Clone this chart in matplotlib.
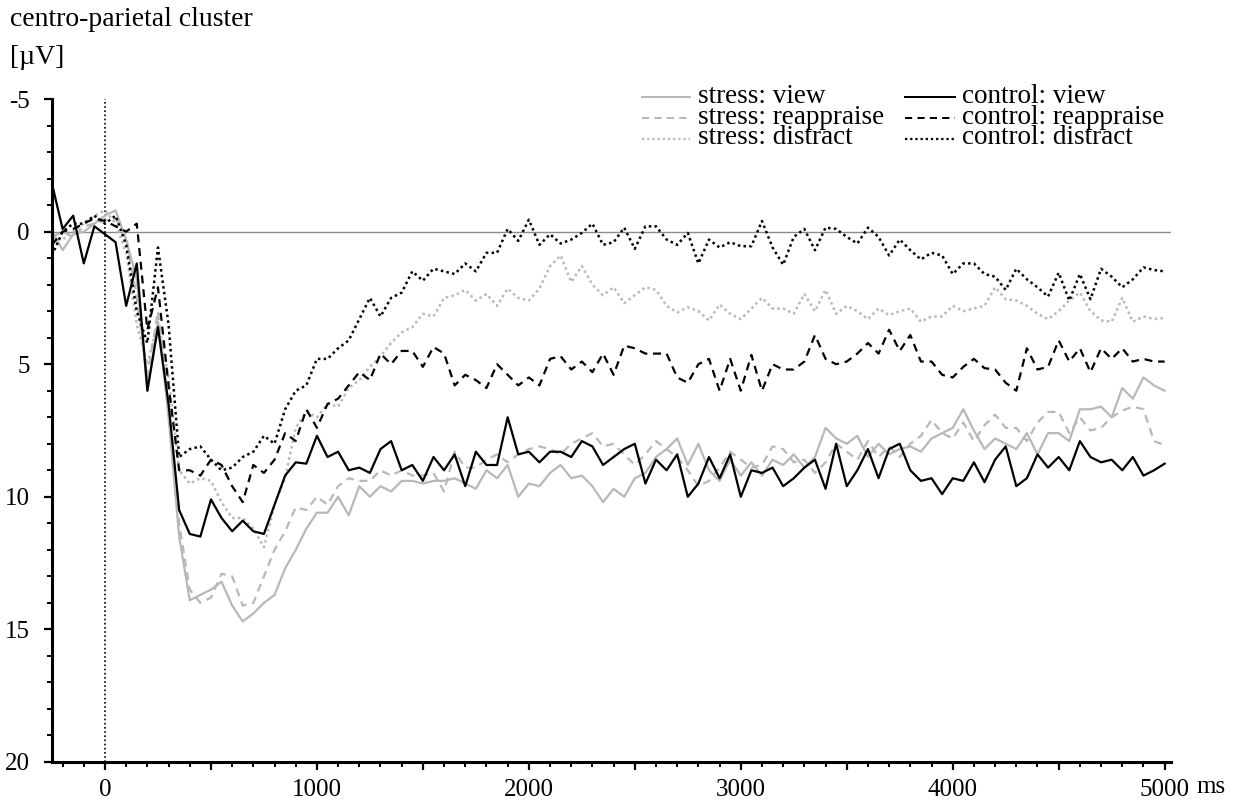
import numpy as np
import matplotlib
matplotlib.use("Agg")
import matplotlib.pyplot as plt
from matplotlib.lines import Line2D
from matplotlib.ticker import MultipleLocator, FixedLocator

plt.rcParams['font.family'] = ['Liberation Serif', 'DejaVu Serif']

# ---- data (ms, µV) ----
time_ms = np.arange(-250, 5001, 50)

stress_view = [0.0, 0.7, 0.1, 0.0, -0.3, -0.6, -0.8, 0.3, 1.8, 6.0,
               3.4, 7.0, 11.5, 13.9, 13.7, 13.5, 13.2, 14.1, 14.7, 14.4,
               14.0, 13.7, 12.7, 12.0, 11.2, 10.6, 10.6, 10.0, 10.7, 9.6,
               10.0, 9.6, 9.8, 9.4, 9.4, 9.5, 9.4, 9.4, 9.3, 9.5,
               9.7, 9.0, 9.3, 8.8, 10.0, 9.5, 9.6, 9.1, 8.8, 9.3,
               9.2, 9.6, 10.2, 9.7, 10.0, 9.3, 9.1, 8.5, 8.2, 7.8,
               8.8, 8.0, 9.0, 9.4, 8.6, 9.2, 8.7, 9.2, 8.6, 8.8,
               8.4, 8.9, 8.5, 7.4, 7.8, 8.0, 7.7, 8.5, 8.0, 8.4,
               8.2, 8.1, 8.3, 7.8, 7.6, 7.4, 6.7, 7.5, 8.2, 7.8,
               8.0, 8.2, 7.6, 8.4, 7.6, 7.6, 7.9, 6.7, 6.7, 6.6,
               7.0, 5.9, 6.3, 5.5, 5.8, 6.0]

stress_reappraise = [0.2, 0.0, 0.2, -0.2, -0.3, -0.4, -0.5, 0.2, 2.5, 5.5,
                     3.0, 6.5, 11.0, 13.5, 14.0, 13.8, 12.9, 13.0, 14.1, 14.0,
                     13.0, 12.0, 11.3, 10.4, 10.5, 10.0, 10.3, 9.6, 9.3, 9.4,
                     9.4, 9.0, 9.2, 9.0, 9.2, 9.2, 9.1, 9.8, 8.3, 8.9,
                     8.9, 8.6, 8.4, 8.7, 8.4, 8.2, 8.1, 8.2, 8.4, 8.0,
                     7.8, 7.6, 8.1, 8.0, 8.4, 8.8, 8.4, 7.9, 8.2, 8.5,
                     9.0, 9.6, 9.4, 8.9, 8.3, 8.6, 8.9, 8.8, 8.1, 8.2,
                     8.7, 8.6, 9.1, 8.7, 8.0, 8.3, 8.6, 7.9, 8.5, 8.1,
                     8.5, 8.0, 7.7, 7.1, 7.6, 7.8, 7.2, 7.9, 7.3, 6.9,
                     7.4, 7.4, 7.9, 7.2, 6.8, 6.8, 7.6, 7.0, 7.5, 7.4,
                     7.0, 6.75, 6.6, 6.7, 7.9, 8.05]

stress_distract = [0.3, 0.3, 0.0, -0.3, -0.6, -0.8, -0.3, 0.8, 3.5, 5.0,
                   3.4, 5.5, 9.0, 9.5, 9.3, 9.4, 10.2, 10.8, 10.8, 11.2,
                   11.9, 10.3, 9.3, 7.4, 6.8, 7.0, 6.5, 6.6, 5.9, 5.6,
                   5.1, 4.7, 4.2, 3.8, 3.6, 3.1, 3.2, 2.5, 2.4, 2.2,
                   2.6, 2.35, 2.8, 2.15, 2.5, 2.6, 2.15, 1.3, 0.9, 1.9,
                   1.3, 2.0, 2.4, 2.1, 2.7, 2.4, 2.1, 2.2, 2.8, 3.05,
                   2.85, 3.0, 3.35, 2.75, 3.1, 3.3, 2.9, 2.5, 2.9, 2.9,
                   3.1, 2.35, 3.0, 2.2, 3.1, 2.8, 3.0, 3.3, 2.9, 3.15,
                   3.0, 2.9, 3.4, 3.2, 3.2, 2.8, 3.0, 2.9, 2.8, 2.1,
                   2.55, 2.6, 2.8, 3.1, 3.3, 3.0, 2.6, 2.3, 3.0, 3.35,
                   3.4, 2.5, 3.4, 3.2, 3.3, 3.25]

control_view = [-1.8, -0.1, -0.6, 1.2, -0.2, 0.1, 0.4, 2.8, 1.2, 6.0,
                3.6, 6.5, 10.5, 11.4, 11.5, 10.1, 10.8, 11.3, 10.9, 11.3,
                11.4, 10.3, 9.2, 8.7, 8.75, 7.7, 8.5, 8.3, 9.0, 8.9,
                9.1, 8.2, 7.9, 9.0, 8.8, 9.4, 8.5, 9.0, 8.4, 9.6,
                8.3, 8.8, 8.8, 7.0, 8.4, 8.3, 8.7, 8.3, 8.3, 8.5,
                7.9, 8.1, 8.8, 8.5, 8.2, 8.0, 9.5, 8.6, 9.0, 8.4,
                10.0, 9.5, 8.5, 9.3, 8.4, 10.0, 9.0, 9.1, 8.9, 9.6,
                9.3, 8.9, 8.6, 9.7, 8.0, 9.6, 9.0, 8.2, 9.3, 8.2,
                8.0, 9.0, 9.4, 9.3, 9.9, 9.3, 9.4, 8.7, 9.45, 8.6,
                8.1, 9.6, 9.3, 8.4, 8.9, 8.5, 9.0, 7.9, 8.5, 8.7,
                8.6, 9.0, 8.5, 9.2, 9.0, 8.75]

control_reappraise = [0.5, 0.0, -0.1, -0.3, -0.5, -0.4, -0.2, 0.0, -0.3, 3.7,
                      2.1, 5.8, 9.0, 9.0, 9.2, 8.6, 8.8, 9.6, 10.2, 8.8,
                      9.1, 8.6, 7.6, 7.9, 6.7, 7.4, 6.5, 6.3, 5.8, 5.3,
                      5.6, 4.6, 5.0, 4.5, 4.5, 5.1, 4.35, 4.6, 5.8, 5.4,
                      5.6, 5.9, 5.0, 5.4, 5.8, 5.5, 5.8, 4.8, 4.7, 5.2,
                      4.9, 5.3, 4.6, 5.4, 4.3, 4.4, 4.6, 4.6, 4.6, 5.5,
                      5.7, 5.0, 4.8, 6.0, 4.8, 6.0, 4.65, 6.0, 5.0, 5.2,
                      5.2, 4.9, 3.9, 4.8, 5.0, 4.9, 4.6, 4.2, 4.6, 3.7,
                      4.5, 3.9, 4.9, 4.9, 5.4, 5.5, 5.1, 4.8, 5.15, 5.2,
                      5.7, 6.0, 4.4, 5.2, 5.1, 4.1, 4.9, 4.4, 5.3, 4.4,
                      4.8, 4.4, 4.9, 4.8, 4.9, 4.9]

control_distract = [0.9, 0.0, -0.3, -0.3, -0.6, -0.3, -0.6, 0.5, 3.0, 4.2,
                    0.6, 3.5, 8.5, 8.2, 8.1, 8.6, 9.0, 8.9, 8.5, 8.3,
                    7.7, 8.0, 6.7, 6.0, 5.8, 4.8, 4.8, 4.4, 4.1, 3.3,
                    2.5, 3.2, 2.5, 2.3, 1.5, 1.85, 1.4, 1.5, 1.6, 1.2,
                    1.5, 0.8, 0.8, -0.1, 0.35, -0.45, 0.5, 0.1, 0.45, 0.3,
                    0.05, -0.3, 0.5, 0.4, -0.15, 0.65, -0.2, -0.2, 0.3, 0.5,
                    0.05, 1.2, 0.3, 0.6, 0.4, 0.55, 0.55, -0.4, 0.6, 1.25,
                    0.2, -0.1, 0.7, -0.15, -0.1, 0.2, 0.45, -0.15, 0.2, 0.9,
                    0.3, 0.7, 1.05, 0.8, 0.9, 1.6, 1.2, 1.2, 1.6, 1.7,
                    2.2, 1.4, 1.8, 2.1, 2.45, 1.55, 2.6, 1.6, 2.55, 1.4,
                    1.7, 2.1, 1.8, 1.35, 1.45, 1.5]

series_labels = ["stress: view", "stress: reappraise", "stress: distract",
                 "control: view", "control: reappraise", "control: distract"]

x_ticks = [0, 1000, 2000, 3000, 4000, 5000]
y_ticks = [-5, 0, 5, 10, 15, 20]

# ---- styling ----
GRAY = '#b8b8b8'
DOT = (0, (1.0, 1.3))
DASH = (0, (3.6, 2.6))
styles = [
    dict(color=GRAY, lw=1.6, ls='-'),
    dict(color=GRAY, lw=1.6, ls=DASH),
    dict(color=GRAY, lw=1.8, ls=DOT),
    dict(color='black', lw=1.6, ls='-'),
    dict(color='black', lw=1.6, ls=DASH),
    dict(color='black', lw=1.8, ls=DOT),
]
series = [stress_view, stress_reappraise, stress_distract,
          control_view, control_reappraise, control_distract]

W, H = 1233, 802
fig = plt.figure(figsize=(W / 100, H / 100), dpi=100)
left_px, right_px, top_px, bottom_px = 52, 1171, 99, 762
ax = fig.add_axes([left_px / W, 1 - bottom_px / H,
                   (right_px - left_px) / W, (bottom_px - top_px) / H])

ax.set_xlim(-250, 5030)
ax.set_ylim(20, -5)

ax.axhline(0, color='#8c8c8c', lw=1.0, zorder=1)
ax.axvline(0, color='black', lw=1.2, ls=(0, (1, 1.5)), zorder=1)

for vals, st in zip(series, styles):
    ax.plot(time_ms, vals, zorder=2, **st)

for s in ['top', 'right']:
    ax.spines[s].set_visible(False)
for s in ['left', 'bottom']:
    ax.spines[s].set_linewidth(2.2)

ax.xaxis.set_major_locator(FixedLocator(list(range(0, 5001, 500))))
ax.set_xticklabels([str(v) if v in x_ticks else '' for v in range(0, 5001, 500)])
ax.xaxis.set_minor_locator(MultipleLocator(100))
ax.yaxis.set_major_locator(FixedLocator(y_ticks))
ax.set_yticklabels([str(v) for v in y_ticks])
ax.yaxis.set_minor_locator(MultipleLocator(1))
ax.tick_params(axis='both', which='major', direction='out', length=6, width=1.6,
               labelsize=18)
ax.tick_params(axis='both', which='minor', direction='out', length=3.5, width=1.4)
ax.tick_params(axis='x', which='major', pad=6)
ax.tick_params(axis='y', which='major', pad=10)

fig.text(10 / W, 1 - 20 / H, 'centro-parietal cluster', fontsize=20,
         va='center', ha='left')
fig.text(10 / W, 1 - 57 / H, '[\u00b5V]', fontsize=20, va='center', ha='left')
fig.text(1196 / W, 1 - 787 / H, 'ms', fontsize=18, va='center', ha='left')

# ---- legend (two columns, tight rows; one text block per column) ----
rows_y = [97, 118, 139]
col_handle = [(642, 690), (905, 955)]
col_text = [698, 962]
for i, st in enumerate(styles):
    c, r = divmod(i, 3)
    y = 1 - rows_y[r] / H
    x0, x1 = col_handle[c]
    fig.add_artist(Line2D([x0 / W, x1 / W], [y, y], transform=fig.transFigure,
                          color=st['color'], lw=st['lw'] * 0.9, ls=st['ls']))
for c in range(2):
    block = "\n".join(series_labels[3 * c:3 * c + 3])
    fig.text(col_text[c] / W, 1 - 117 / H, block, fontsize=19.5,
             va='center', ha='left', linespacing=0.76)

fig.savefig('out.png', dpi=100)
